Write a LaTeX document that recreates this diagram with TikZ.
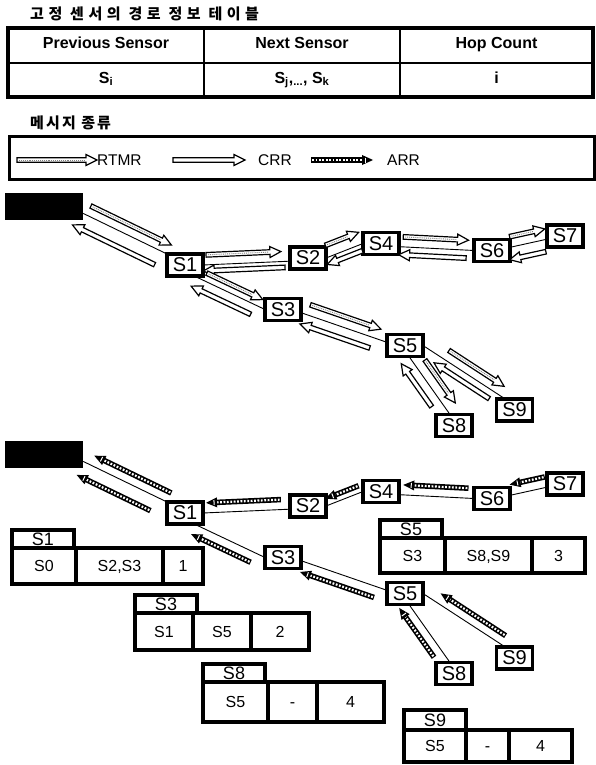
\documentclass[tikz,border=0pt]{standalone}
\usepackage{fontspec}
\setmainfont{Liberation Sans}
\newfontfamily\krfont[LetterSpace=14]{Noto Sans CJK KR}
\newfontfamily\krwide[LetterSpace=30]{Noto Sans CJK KR}
\usetikzlibrary{calc, positioning}

\tikzset{
  sensor/.style={draw, line width=3.4pt, minimum width=36pt, minimum height=22pt,
    inner sep=0pt, outer sep=0pt, font=\fontsize{20}{20}\selectfont},
  sink/.style={fill=black, minimum width=78pt, minimum height=27pt, inner sep=0pt},
  link/.style={line width=0.9pt},
  msgline/.style={line width=1.2pt, fill=white, line join=miter},
  hcell/.style={draw, line width=1.4pt, minimum height=35pt, inner sep=0pt,
    outer sep=0pt, text height=1.5ex, text depth=0.3ex,
    font=\fontsize{16}{16}\selectfont\bfseries},
  tcell/.style={draw, line width=3.2pt, inner sep=0pt, outer sep=0pt,
    text height=11.5pt, text depth=0pt, font=\fontsize{16}{16}\selectfont},
  tabtag/.style={draw, line width=3.2pt, minimum width=62pt, minimum height=18pt,
    inner sep=0pt, outer sep=0pt, font=\fontsize{18}{18}\selectfont},
  lgtext/.style={inner sep=0pt, anchor=west, font=\fontsize{15.5}{15.5}\selectfont},
  krtitle/.style={anchor=west, inner sep=0pt, font=\krfont\bfseries\fontsize{15}{15}\selectfont},
}

% hollow message arrows: tail, tip
\newcommand\drawcrr[2]{%
  \draw[msgline] let \p1=($(#2)-(#1)$), \n1={atan2(\y1,\x1)}, \n2={veclen(\x1,\y1)-11} in
    ($(#1)+(\n1+90:2.3pt)$) -- ($(#1)+(\n1:\n2)+(\n1+90:2.3pt)$)
    -- ($(#1)+(\n1:\n2)+(\n1+90:5.5pt)$) -- (#2)
    -- ($(#1)+(\n1:\n2)+(\n1-90:5.5pt)$) -- ($(#1)+(\n1:\n2)+(\n1-90:2.3pt)$)
    -- ($(#1)+(\n1-90:2.3pt)$) -- cycle;}
\newcommand\drawrtmr[2]{%
  \drawcrr{#1}{#2}
  \draw[gray, densely dotted, line width=0.9pt, shorten >=12pt, shorten <=2pt] (#1) -- (#2);}
\newcommand\drawarr[2]{%
  \draw[line width=5.5pt, shorten >=9pt] (#1) -- (#2);
  \draw[white, line width=2.2pt, dash pattern=on 1.8pt off 1.6pt,
    shorten >=10pt, shorten <=1.2pt] (#1) -- (#2);
  \fill let \p1=($(#2)-(#1)$), \n1={atan2(\y1,\x1)}, \n2={veclen(\x1,\y1)-11} in
    ($(#1)+(\n1:\n2)+(\n1+90:5pt)$) -- (#2) -- ($(#1)+(\n1:\n2)+(\n1-90:5pt)$) -- cycle;
  \draw[white, line width=1pt] let \p1=($(#2)-(#1)$), \n1={atan2(\y1,\x1)}, \n2={veclen(\x1,\y1)-8} in
    ($(#1)+(\n1:\n2)+(\n1+90:2.5pt)$) -- ($(#1)+(\n1:\n2)+(\n1-90:2.5pt)$);}

% message beside a link: type, from, to, start, end, side offset
\newcommand\msg[6]{%
  \path let \p1=($(#3)-(#2)$), \n1={atan2(\y1,\x1)} in
    coordinate (ma) at ($(#2)!#4!(#3)+(\n1+90:#6pt)$)
    coordinate (mb) at ($(#2)!#5!(#3)+(\n1+90:#6pt)$);
  \csname draw#1\endcsname{ma}{mb}}

% sensors and links
\newcommand\sensornet{%
  \node[sink] (s0) at (44,206.5) {};
  \node[sensor] (s1) at (185,265) {S1};
  \node[sensor] (s2) at (308,258) {S2};
  \node[sensor] (s4) at (381,243.5) {S4};
  \node[sensor] (s6) at (492,250.5) {S6};
  \node[sensor] (s7) at (565,236) {S7};
  \node[sensor] (s3) at (283,309.5) {S3};
  \node[sensor] (s5) at (405,345.5) {S5};
  \node[sensor] (s8) at (454,425.5) {S8};
  \node[sensor] (s9) at (514.5,410) {S9};
  \draw[link] (s0.350) -- (s1.north west);
  \draw[link] (s1.east) -- (s2.190);
  \draw[link] (s1.310) -- (s3.west);
  \draw[link] (s2.east) -- (s4.west);
  \draw[link] (s4.350) -- (s6.west);
  \draw[link] (s6.10) -- (s7.190);
  \draw[link] (s3.350) -- (s5.170);
  \draw[link] (s5.290) -- (s8.110);
  \draw[link] (s5.east) -- (s9.130);}

\begin{document}
\begin{tikzpicture}[x=1pt, y=-1pt]
  \useasboundingbox (0,0) rectangle (595,765);

  % routing table header
  \node[krtitle, font=\krwide\bfseries\fontsize{15}{15}\selectfont] (title)
    at (30,14) {고정 센서의 경로 정보 테이블};
  \node[hcell, minimum width=196pt, anchor=north west] (hprev) at (8,28) {Previous Sensor};
  \node[hcell, minimum width=196pt, right=0pt of hprev] (hnext) {Next Sensor};
  \node[hcell, minimum width=193pt, right=0pt of hnext] (hhop) {Hop Count};
  \node[hcell, minimum width=196pt, minimum height=34pt, below=0pt of hprev] (vprev)
    {S\textsubscript{i}};
  \node[hcell, minimum width=196pt, minimum height=34pt, below=0pt of hnext] (vnext)
    {S\textsubscript{j},\textsubscript{...}, S\textsubscript{k}};
  \node[hcell, minimum width=193pt, minimum height=34pt, below=0pt of hhop] (vhop) {i};
  \draw[line width=3.2pt] (hprev.north west) rectangle (vhop.south east);

  % legend
  \node[krtitle] (msgtitle) at (30,123) {메시지 종류};
  \node[draw, line width=2.6pt, minimum width=585pt, minimum height=43pt, inner sep=0pt,
    anchor=north west] (legendbox) at (8,135) {};
  \coordinate (rtmrtail) at (17,160);
  \node[lgtext] (rtmrlbl) at (97,160) {RTMR};
  \drawrtmr{rtmrtail}{rtmrlbl.west}
  \coordinate (crrtail) at (173,160);
  \coordinate (crrtip) at (245,160);
  \node[lgtext] (crrlbl) at (258,160) {CRR};
  \drawcrr{crrtail}{crrtip}
  \coordinate (arrtail) at (311,160);
  \coordinate (arrtip) at (373,160);
  \node[lgtext] (arrlbl) at (387,160) {ARR};
  \drawarr{arrtail}{arrtip}

  % route set-up
  \begin{scope}
    \sensornet
    \msg{rtmr}{s0.350}{s1.north west}{0.04}{1.0}{10}
    \msg{crr}{s0.350}{s1.north west}{0.93}{-0.05}{-15}
    \msg{rtmr}{s1.east}{s2.190}{0.04}{0.9}{10}
    \msg{crr}{s1.east}{s2.190}{0.94}{0.0}{-6}
    \msg{rtmr}{s1.310}{s3.west}{0.13}{0.92}{8}
    \msg{crr}{s1.310}{s3.west}{0.86}{0.02}{-10.5}
    \msg{rtmr}{s2.east}{s4.west}{0.1}{1.0}{12}
    \msg{crr}{s2.east}{s4.west}{0.92}{-0.03}{-6.5}
    \msg{rtmr}{s4.350}{s6.west}{0.05}{0.92}{10}
    \msg{crr}{s4.350}{s6.west}{0.9}{0.0}{-8}
    \msg{rtmr}{s6.10}{s7.190}{0.05}{1.0}{10.5}
    \msg{crr}{s6.10}{s7.190}{0.9}{-0.08}{-12}
    \msg{rtmr}{s3.350}{s5.170}{0.07}{0.89}{10.5}
    \msg{crr}{s3.350}{s5.170}{0.84}{0.03}{-11}
    \msg{rtmr}{s5.290}{s8.110}{0.17}{0.91}{11}
    \msg{crr}{s5.290}{s8.110}{0.76}{0.02}{-10.5}
    \msg{rtmr}{s5.east}{s9.130}{0.25}{0.92}{10}
    \msg{crr}{s5.east}{s9.130}{0.86}{0.19}{-8.5}
  \end{scope}

  % route reply
  \begin{scope}[yshift=-248pt, name prefix=b-]
    \sensornet
    \msg{arr}{s0.350}{s1.north west}{1.0}{0.08}{10}
    \msg{arr}{s0.350}{s1.north west}{0.88}{0.0}{-15}
    \msg{arr}{s1.east}{s2.190}{0.9}{0.04}{10}
    \msg{arr}{s1.310}{s3.west}{0.86}{0.02}{-10.5}
    \msg{arr}{s2.east}{s4.west}{0.95}{0.05}{7}
    \msg{arr}{s4.350}{s6.west}{0.92}{0.05}{10}
    \msg{arr}{s6.10}{s7.190}{1.0}{0.05}{10.5}
    \msg{arr}{s3.350}{s5.170}{0.89}{0.03}{-11}
    \msg{arr}{s5.290}{s8.110}{0.81}{-0.04}{-10}
    \msg{arr}{s5.east}{s9.130}{0.94}{0.15}{9.7}
  \end{scope}

  % routing tables of the sensors
  \node[tcell, minimum width=64pt, minimum height=36pt, anchor=north west] (t1a) at (12,548) {S0};
  \node[tcell, minimum width=87pt, minimum height=36pt, right=0pt of t1a] (t1b) {S2,S3};
  \node[tcell, minimum width=40pt, minimum height=36pt, right=0pt of t1b] (t1c) {1};
  \node[tabtag, anchor=south west] (t1h) at (t1a.north west) {S1};

  \node[tcell, minimum width=65pt, minimum height=35pt, anchor=north west] (t5a) at (380,538) {S3};
  \node[tcell, minimum width=87pt, minimum height=35pt, right=0pt of t5a] (t5b) {S8,S9};
  \node[tcell, minimum width=53pt, minimum height=35pt, right=0pt of t5b] (t5c) {3};
  \node[tabtag, anchor=south west] (t5h) at (t5a.north west) {S5};

  \node[tcell, minimum width=58pt, minimum height=37pt, anchor=north west] (t3a) at (135,613) {S1};
  \node[tcell, minimum width=58pt, minimum height=37pt, right=0pt of t3a] (t3b) {S5};
  \node[tcell, minimum width=58pt, minimum height=37pt, right=0pt of t3b] (t3c) {2};
  \node[tabtag, anchor=south west] (t3h) at (t3a.north west) {S3};

  \node[tcell, minimum width=65pt, minimum height=40pt, anchor=north west] (t8a) at (203,682) {S5};
  \node[tcell, minimum width=49pt, minimum height=40pt, right=0pt of t8a] (t8b) {-};
  \node[tcell, minimum width=67pt, minimum height=40pt, right=0pt of t8b] (t8c) {4};
  \node[tabtag, anchor=south west] (t8h) at (t8a.north west) {S8};

  \node[tcell, minimum width=62pt, minimum height=32pt, anchor=north west] (t9a) at (404,730) {S5};
  \node[tcell, minimum width=43pt, minimum height=32pt, right=0pt of t9a] (t9b) {-};
  \node[tcell, minimum width=63pt, minimum height=32pt, right=0pt of t9b] (t9c) {4};
  \node[tabtag, anchor=south west, minimum height=20pt] (t9h) at (t9a.north west) {S9};
\end{tikzpicture}
\end{document}
